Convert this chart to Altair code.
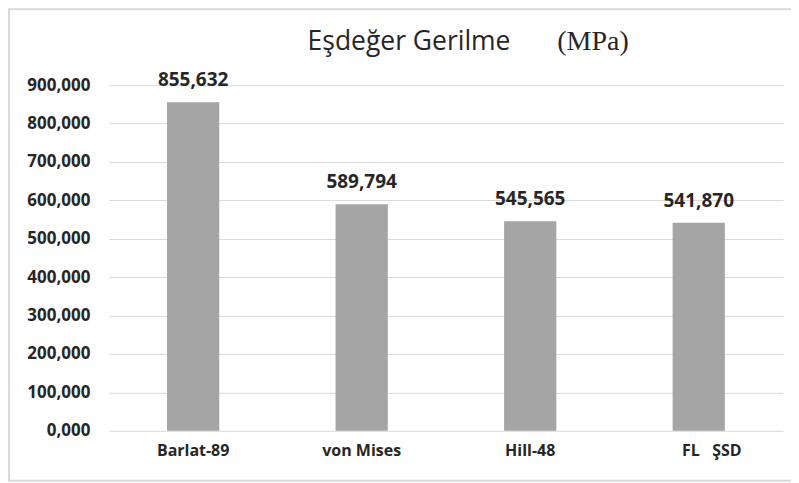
import altair as alt
import pandas as pd

# ---- data ----
categories = ["Barlat-89", "von Mises", "Hill-48", "FL\u00a0\u00a0\u00a0ŞSD"]
values = [855.632, 589.794, 545.565, 541.870]
y_ticks = [0, 100, 200, 300, 400, 500, 600, 700, 800, 900]
title_main = "Eşdeğer Gerilme"
title_unit = "(MPa)"

df = pd.DataFrame({"model": categories, "stress": values})

TEXT = "#262626"
GRID = "#d9d9d9"
BAR = "#a5a5a5"

x_enc = alt.X(
    "model:N",
    sort=categories,
    title=None,
    scale=alt.Scale(paddingInner=0.69, paddingOuter=0.345),
    axis=alt.Axis(
        labelAngle=0,
        ticks=False,
        domain=False,
        labelFont="Open Sans",
        labelFontWeight="bold",
        labelFontSize=16,
        labelColor=TEXT,
        labelPadding=12,
        labelOffset={"condition": {"test": f"datum.value === '{categories[3]}'", "value": 13}, "value": 0},
    ),
)
y_enc = alt.Y(
    "stress:Q",
    title=None,
    scale=alt.Scale(domain=[0, 900], nice=False),
    axis=alt.Axis(
        values=y_ticks,
        labelExpr="replace(format(datum.value, '.3f'), '.', ',')",
        grid=True,
        gridColor=GRID,
        gridWidth=1,
        domain=False,
        ticks=False,
        labelFont="Open Sans",
        labelFontWeight="bold",
        labelFontSize=17,
        labelColor=TEXT,
        labelPadding=19,
    ),
)

base = alt.Chart(df).encode(x=x_enc, y=y_enc)
bars = base.mark_bar(color=BAR)
labels = base.transform_calculate(
    lbl="replace(format(datum.stress, '.3f'), '.', ',')"
).mark_text(
    font="Open Sans", fontWeight="bold", fontSize=19, color=TEXT,
    baseline="alphabetic", dy=-16
).encode(text="lbl:N")

tdf = pd.DataFrame({"main": [title_main], "unit": [title_unit]})
t1 = alt.Chart(tdf).mark_text(
    font="Open Sans", fontSize=26.5, color=TEXT, align="left", baseline="alphabetic"
).encode(text="main:N", x=alt.value(199), y=alt.value(-35))
t2 = alt.Chart(tdf).mark_text(
    font="Liberation Serif", fontSize=28, color=TEXT, align="left", baseline="alphabetic"
).encode(text="unit:N", x=alt.value(449), y=alt.value(-35))

bdf = pd.DataFrame({"k": [0]})
border = alt.Chart(bdf).mark_rect(fill=None, filled=False, stroke=GRID, strokeWidth=2).encode(
    x=alt.value(-100), x2=alt.value(800), y=alt.value(-76), y2=alt.value(396))

chart = alt.layer(bars, labels, t1, t2, border).properties(
    width=675,
    height=346,
    padding={"left": 101, "top": 77, "right": 8, "bottom": 52},
    autosize=alt.AutoSizeParams(type="none"),
    background="white",
).configure_view(stroke=None)

chart.save("out.html", embed_options={"renderer": "svg", "actions": False})
